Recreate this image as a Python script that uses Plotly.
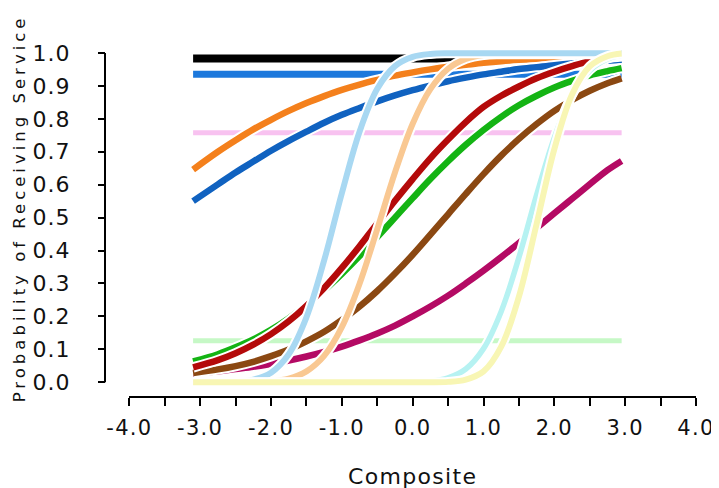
import plotly.graph_objects as go

# ---------------- data ----------------
composite_x = [-3.1, -2.75, -2.5, -2.25, -2.0, -1.75, -1.5, -1.25, -1.0, -0.75, -0.5, -0.25,
               0.0, 0.25, 0.5, 0.75, 1.0, 1.25, 1.5, 1.75, 2.0, 2.25, 2.5, 2.75, 2.95]
flat_x = [-3.1, 2.95]

black_flat = [0.983, 0.983]
blue_flat = [0.935, 0.935]
pink_flat = [0.758, 0.758]
lightgreen_flat = [0.126, 0.126]

orange = [0.646, 0.700, 0.735, 0.768, 0.797, 0.824, 0.848, 0.869, 0.888, 0.904, 0.918, 0.931,
          0.941, 0.950, 0.958, 0.964, 0.970, 0.975, 0.979, 0.982, 0.985, 0.987, 0.989, 0.991, 0.992]
darkblue = [0.550, 0.601, 0.637, 0.670, 0.703, 0.733, 0.761, 0.788, 0.812, 0.833, 0.853, 0.871,
            0.887, 0.901, 0.914, 0.925, 0.935, 0.943, 0.951, 0.957, 0.963, 0.968, 0.972, 0.976, 0.979]
magenta = [0.026, 0.033, 0.040, 0.047, 0.056, 0.066, 0.078, 0.092, 0.108, 0.127, 0.148, 0.172,
           0.200, 0.230, 0.263, 0.300, 0.339, 0.380, 0.423, 0.468, 0.513, 0.557, 0.601, 0.644, 0.672]
brown = [0.028, 0.039, 0.049, 0.062, 0.079, 0.099, 0.124, 0.153, 0.189, 0.230, 0.277, 0.330,
         0.387, 0.448, 0.510, 0.572, 0.632, 0.688, 0.739, 0.784, 0.824, 0.857, 0.885, 0.908, 0.923]
green = [0.063, 0.085, 0.106, 0.130, 0.159, 0.194, 0.234, 0.279, 0.329, 0.383, 0.441, 0.500,
         0.559, 0.617, 0.671, 0.721, 0.766, 0.806, 0.841, 0.870, 0.895, 0.915, 0.932, 0.945, 0.954]
red = [0.045, 0.067, 0.088, 0.114, 0.146, 0.185, 0.232, 0.286, 0.347, 0.413, 0.482, 0.551,
       0.617, 0.680, 0.737, 0.790, 0.836, 0.870, 0.898, 0.923, 0.943, 0.960, 0.975, 0.985, 0.990]
peach = [0.000, 0.000, 0.000, 0.001, 0.003, 0.011, 0.033, 0.080, 0.167, 0.299, 0.465, 0.637,
         0.785, 0.890, 0.952, 0.982, 0.994, 0.996, 0.996, 0.996, 0.996, 0.996, 0.996, 0.996, 0.996]
lightblue = [0.000, 0.000, 0.002, 0.008, 0.029, 0.085, 0.197, 0.370, 0.574, 0.761, 0.891, 0.960,
             0.988, 0.997, 0.999, 0.999, 0.999, 0.999, 0.999, 0.999, 0.999, 0.999, 0.999, 0.999, 0.999]
cyan = [0.000, 0.000, 0.000, 0.000, 0.000, 0.000, 0.000, 0.000, 0.000, 0.000, 0.000, 0.000,
        0.001, 0.003, 0.013, 0.040, 0.102, 0.215, 0.379, 0.569, 0.743, 0.872, 0.947, 0.982, 0.993]
yellow = [0.000, 0.000, 0.000, 0.000, 0.000, 0.000, 0.000, 0.000, 0.000, 0.000, 0.000, 0.000,
          0.000, 0.000, 0.001, 0.008, 0.033, 0.108, 0.260, 0.481, 0.708, 0.874, 0.959, 0.990, 0.998]

x_tick_vals = [-4, -3, -2, -1, 0, 1, 2, 3, 4]
x_tick_text = ["-4.0", "-3.0", "-2.0", "-1.0", "0.0", "1.0", "2.0", "3.0", "4.0"]
x_minor_vals = [-3.5, -2.5, -1.5, -0.5, 0.5, 1.5, 2.5, 3.5]
y_tick_vals = [0.0, 0.1, 0.2, 0.3, 0.4, 0.5, 0.6, 0.7, 0.8, 0.9, 1.0]
y_tick_text = ["0.0", "0.1", "0.2", "0.3", "0.4", "0.5", "0.6", "0.7", "0.8", "0.9", "1.0"]

x_title = "Composite"
y_title = "Probability of Receiving Service"

# (x, y, color, width) in drawing order, bottom to top
series = [
    (flat_x, pink_flat, "#f8c2f0", 5),
    (flat_x, lightgreen_flat, "#c6f8c6", 5),
    (flat_x, black_flat, "#000000", 8),
    (flat_x, blue_flat, "#1c78dc", 7),
    (composite_x, orange, "#f4801c", 6.5),
    (composite_x, darkblue, "#1062c0", 6.5),
    (composite_x, magenta, "#b40a64", 6.5),
    (composite_x, brown, "#8b4812", 6.5),
    (composite_x, green, "#14b414", 6.5),
    (composite_x, red, "#b40a0a", 6.5),
    (composite_x, peach, "#f9c892", 6),
    (composite_x, lightblue, "#a8d8f2", 6),
    (composite_x, cyan, "#b6f2f2", 5.5),
    (composite_x, yellow, "#f8f6b4", 6),
]

FONT = "DejaVu Sans, Verdana, sans-serif"
TXT = "#111111"


def spaced(txt, px):
    return f"<span style='letter-spacing:{px}px'>{txt}</span>"


fig = go.Figure()
for xs, ys, col, w in series:
    fig.add_trace(go.Scatter(x=xs, y=ys, mode="lines", line=dict(color="white", width=w + 4, shape="spline"),
                             hoverinfo="skip", showlegend=False))
    fig.add_trace(go.Scatter(x=xs, y=ys, mode="lines", line=dict(color=col, width=w, shape="spline"),
                             showlegend=False))

fig.update_layout(
    width=719, height=488,
    margin=dict(l=97, r=22, t=41, b=95),
    paper_bgcolor="white", plot_bgcolor="white",
    font=dict(family=FONT, color=TXT),
    showlegend=False,
    xaxis=dict(
        domain=[0.0412, 1.0], range=[-4, 4], anchor="free", position=0,
        showline=True, linecolor="black", linewidth=2, showgrid=False, zeroline=False,
        tickmode="array", tickvals=x_tick_vals, ticktext=[spaced(t, 1.3) for t in x_tick_text],
        ticks="outside", ticklen=8, tickwidth=2, tickcolor="black",
        ticklabelstandoff=4,
        minor=dict(tickmode="array", tickvals=x_minor_vals, ticks="outside", ticklen=8,
                   tickwidth=2, tickcolor="black", showgrid=False),
        tickfont=dict(size=21, family=FONT, color=TXT),
        title=dict(text=spaced(x_title, 1.3), font=dict(size=22, family=FONT, color=TXT), standoff=28),
    ),
    yaxis=dict(
        domain=[0.0236, 1.0], range=[-0.02, 1.012], anchor="free", position=0,
        showline=False, showgrid=False, zeroline=False,
        tickmode="array", tickvals=y_tick_vals, ticktext=[spaced(t, 1) for t in y_tick_text],
        ticks="outside", ticklen=7, tickwidth=2, tickcolor="black",
        ticklabelstandoff=23,
        tickfont=dict(size=22, family=FONT, color=TXT),
    ),
    annotations=[dict(text=spaced(y_title, 4), textangle=-90, xref="paper", yref="paper",
                      x=-0.145, y=0.543, xanchor="center", yanchor="middle", showarrow=False,
                      font=dict(size=16.5, family=FONT, color=TXT))],
    shapes=[dict(type="line", xref="paper", yref="y", x0=0, x1=0, y0=0, y1=1,
                 line=dict(color="black", width=2), layer="above")],
)

fig.write_html("out.html")
